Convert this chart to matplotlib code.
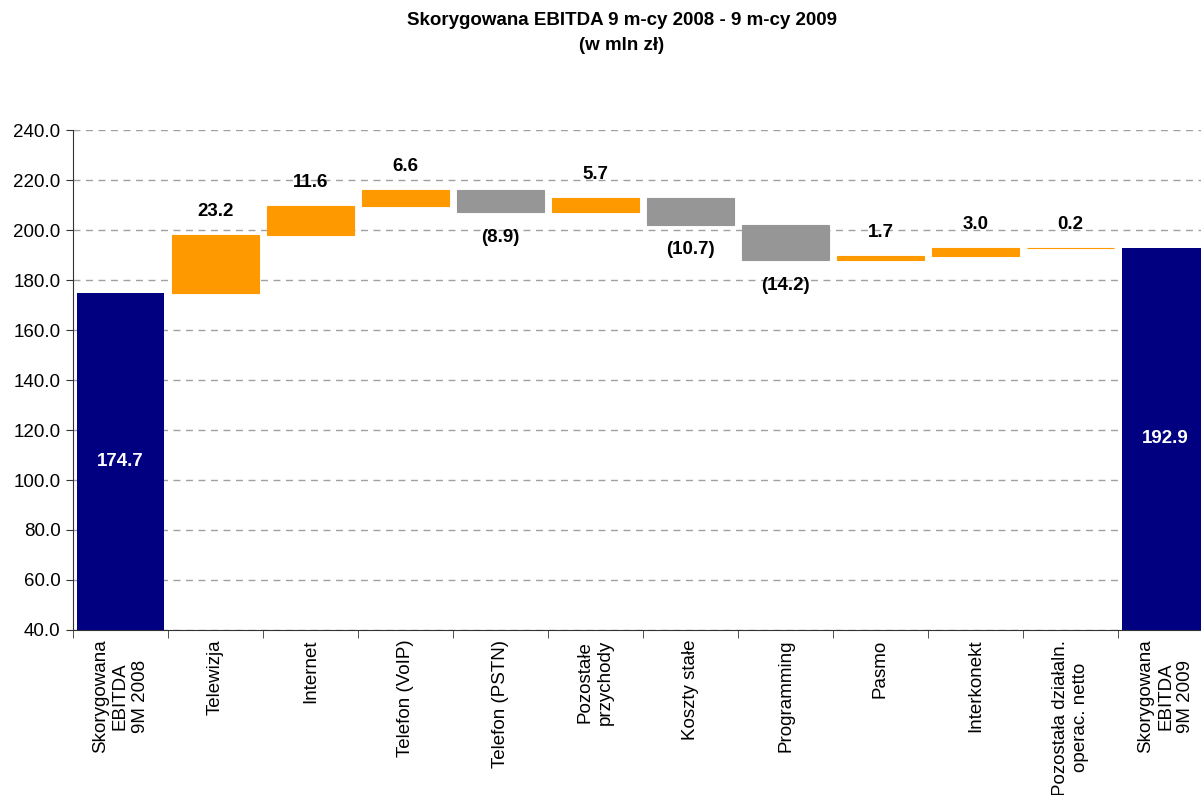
import numpy as np
import matplotlib.pyplot as plt

plt.rcParams['font.family'] = ['Liberation Sans', 'DejaVu Sans']

# data
categories = ["Skorygowana\nEBITDA\n9M 2008", "Telewizja", "Internet", "Telefon (VoIP)",
              "Telefon (PSTN)", "Pozostałe\nprzychody", "Koszty stałe", "Programming",
              "Pasmo", "Interkonekt", "Pozostała działaln.\noperac. netto",
              "Skorygowana\nEBITDA\n9M 2009"]
start_value = 174.7
changes = [23.2, 11.6, 6.6, -8.9, 5.7, -10.7, -14.2, 1.7, 3.0, 0.2]
end_value = 192.9

navy = "#000080"
orange = "#FF9900"
gray = "#969696"

fig = plt.figure(figsize=(12.01, 7.95), dpi=100)
ax = fig.add_axes([73 / 1201, 1 - 630 / 795, 1140 / 1201, 500 / 795])

ymin = 40.0
width = 0.926
x = np.arange(len(categories))

# start / end totals
for xi, val in [(0, start_value), (len(categories) - 1, end_value)]:
    ax.bar(xi, val - ymin, bottom=ymin, width=width, color=navy, zorder=3)
    ax.text(xi, (ymin + val) / 2, f"{val:.1f}", ha="center", va="center",
            color="white", fontsize=13.5, fontweight="bold", zorder=4)

# floating steps
level = start_value
for i, d in enumerate(changes, start=1):
    lo = min(level, level + d)
    c = orange if d > 0 else gray
    ax.bar(i, abs(d), bottom=lo, width=width, color=c, edgecolor=c,
           linewidth=0.8, zorder=3)
    if d > 0:
        ax.text(i, level + d + 9.5, f"{d:.1f}", ha="center", va="center",
                fontsize=13.5, fontweight="bold")
    else:
        ax.text(i, level + d - 10, f"({abs(d):.1f})", ha="center", va="center",
                fontsize=13.5, fontweight="bold")
    level += d

ax.set_ylim(40, 240)
ax.set_yticks(np.arange(40, 241, 20))
ax.set_yticklabels([f"{v:.1f}" for v in np.arange(40, 241, 20)], fontsize=13.5)
ax.set_xlim(-0.5, len(categories) - 0.5)
ax.set_xticks(x)
ax.set_xticklabels(categories, rotation=90, ha="center", va="top", fontsize=13.5,
                   multialignment="center", linespacing=1.25)
ax.set_xticks(np.arange(-0.5, len(categories), 1), minor=True)
ax.tick_params(axis="x", which="major", length=0, pad=7)
ax.tick_params(axis="x", which="minor", length=6, direction="out", color="#333333")
ax.tick_params(axis="y", length=5, direction="out", color="#333333", pad=4)

ax.yaxis.grid(True, color="#a0a0a0", linestyle=(0, (5, 4)), linewidth=1)
ax.set_axisbelow(True)
for s in ["top", "right"]:
    ax.spines[s].set_visible(False)
for s in ["left", "bottom"]:
    ax.spines[s].set_color("#333333")

fig.text(622 / 1201, 1 - 33 / 795, "Skorygowana EBITDA 9 m-cy 2008 - 9 m-cy 2009\n(w mln zł)",
         ha="center", va="center", fontsize=13.5, fontweight="bold", linespacing=1.55)

fig.savefig("out.png", dpi=100)
